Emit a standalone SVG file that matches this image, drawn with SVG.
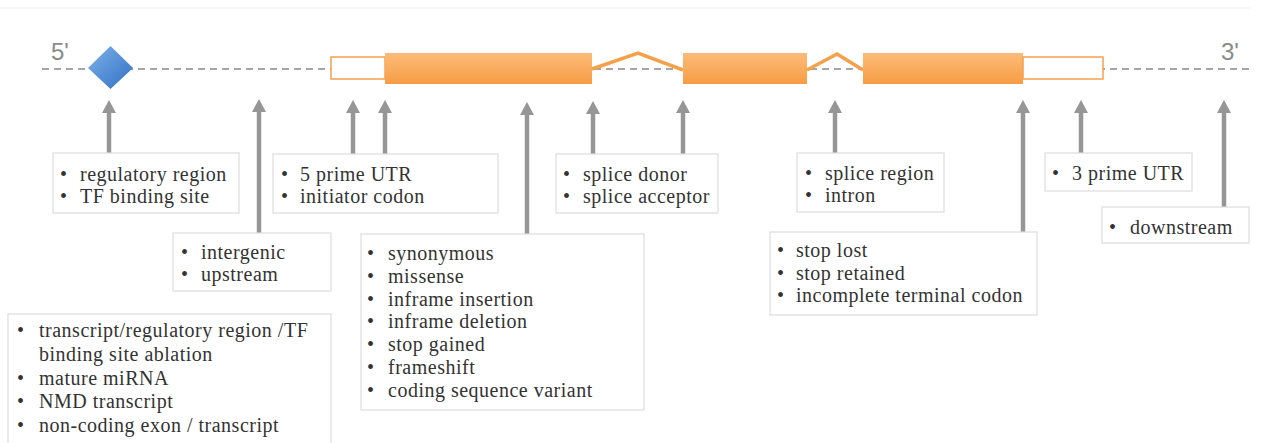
<svg xmlns="http://www.w3.org/2000/svg" width="1271" height="443" viewBox="0 0 1271 443">
<style>
.box{fill:#ffffff;stroke:#dcdcdc;stroke-width:1.2}
.t{font-family:"Liberation Serif","Times New Roman",serif;font-size:20px;letter-spacing:0.5px;fill:#333333}
.prime{font-family:"Liberation Sans",Arial,sans-serif;font-size:24px;fill:#8a8a8a}
.arr{stroke:#969696;stroke-width:4.5;fill:none;marker-end:url(#ah)}
.intron{stroke:#f5a04a;stroke-width:3.5;fill:none;stroke-linejoin:miter}
.exon{fill:url(#og)}
.utr{fill:#ffffff;stroke:#f5a050;stroke-width:1.5}
</style>
<defs>
<linearGradient id="og" x1="0" y1="0" x2="0" y2="1">
<stop offset="0" stop-color="#fdbb78"/>
<stop offset="1" stop-color="#f69d45"/>
</linearGradient>
<linearGradient id="bg" x1="0" y1="0" x2="1" y2="1">
<stop offset="0" stop-color="#7fb2ea"/>
<stop offset="1" stop-color="#2f6fc4"/>
</linearGradient>
<marker id="ah" markerUnits="userSpaceOnUse" viewBox="0 0 13 14" markerWidth="13" markerHeight="14" refX="3" refY="7" orient="auto">
<path d="M0,0 L13,7 L0,14 z" fill="#969696"/>
</marker>
</defs>
<rect width="1271" height="443" fill="#ffffff"/>
<line x1="0" y1="8" x2="1250" y2="8" stroke="#efefef" stroke-width="1"/>

<g id="gene">
<line x1="42" y1="69" x2="1250" y2="69" stroke="#a6a6a6" stroke-width="2" stroke-dasharray="7 5"/>
<text class="prime" x="51" y="60">5'</text>
<text class="prime" x="1221" y="60">3'</text>
<polygon id="tf-site" points="110.5,46 133,68 110.5,89 88,68" fill="url(#bg)"/>
<rect class="utr" x="331" y="57" width="54" height="22"/>
<rect class="exon" x="385" y="53" width="207" height="31"/>
<polyline class="intron" points="592,69 638,53 683,70"/>
<rect class="exon" x="683" y="53" width="124" height="31"/>
<polyline class="intron" points="807,70 837,54 863,70"/>
<rect class="exon" x="863" y="53" width="160" height="31"/>
<rect class="utr" x="1023" y="57" width="80" height="22"/>
</g>

<g id="connectors">
<line class="arr" x1="109" y1="153" x2="109" y2="110"/>
<line class="arr" x1="259" y1="233" x2="259" y2="109"/>
<line class="arr" x1="353" y1="155" x2="353" y2="110"/>
<line class="arr" x1="385" y1="155" x2="385" y2="110"/>
<line class="arr" x1="527" y1="234" x2="527" y2="112"/>
<line class="arr" x1="593" y1="155" x2="593" y2="111"/>
<line class="arr" x1="683" y1="155" x2="683" y2="110"/>
<line class="arr" x1="835" y1="153" x2="835" y2="110"/>
<line class="arr" x1="1023" y1="233" x2="1023" y2="110"/>
<line class="arr" x1="1081" y1="153" x2="1081" y2="110"/>
<line class="arr" x1="1224" y1="207" x2="1224" y2="110"/>
</g>

<g id="node-regulatory">
<rect class="box" x="53" y="153" width="186" height="60"/>
<text class="t"><tspan x="60" y="181">•</tspan><tspan x="80">regulatory region</tspan></text>
<text class="t"><tspan x="60" y="203">•</tspan><tspan x="80">TF binding site</tspan></text>
</g>

<g id="node-utr5">
<rect class="box" x="273" y="154" width="225" height="59"/>
<text class="t"><tspan x="281" y="181">•</tspan><tspan x="300">5 prime UTR</tspan></text>
<text class="t"><tspan x="281" y="203">•</tspan><tspan x="300">initiator codon</tspan></text>
</g>

<g id="node-splice">
<rect class="box" x="556" y="154" width="162" height="59"/>
<text class="t"><tspan x="563" y="181">•</tspan><tspan x="583">splice donor</tspan></text>
<text class="t"><tspan x="563" y="203">•</tspan><tspan x="583">splice acceptor</tspan></text>
</g>

<g id="node-intron">
<rect class="box" x="797" y="153" width="147" height="59"/>
<text class="t"><tspan x="805" y="180">•</tspan><tspan x="825">splice region</tspan></text>
<text class="t"><tspan x="805" y="202">•</tspan><tspan x="825">intron</tspan></text>
</g>

<g id="node-utr3">
<rect class="box" x="1045" y="153" width="147" height="38"/>
<text class="t"><tspan x="1052" y="180">•</tspan><tspan x="1072">3 prime UTR</tspan></text>
</g>

<g id="node-downstream">
<rect class="box" x="1102" y="207" width="147" height="36"/>
<text class="t"><tspan x="1109" y="234">•</tspan><tspan x="1130">downstream</tspan></text>
</g>

<g id="node-intergenic">
<rect class="box" x="173" y="233" width="158" height="58"/>
<text class="t"><tspan x="181" y="259">•</tspan><tspan x="201">intergenic</tspan></text>
<text class="t"><tspan x="181" y="281">•</tspan><tspan x="201">upstream</tspan></text>
</g>

<g id="node-coding">
<rect class="box" x="361" y="234" width="283" height="176"/>
<text class="t"><tspan x="367" y="260">•</tspan><tspan x="388">synonymous</tspan></text>
<text class="t"><tspan x="367" y="283">•</tspan><tspan x="388">missense</tspan></text>
<text class="t"><tspan x="367" y="306">•</tspan><tspan x="388">inframe insertion</tspan></text>
<text class="t"><tspan x="367" y="328">•</tspan><tspan x="388">inframe deletion</tspan></text>
<text class="t"><tspan x="367" y="351">•</tspan><tspan x="388">stop gained</tspan></text>
<text class="t"><tspan x="367" y="374">•</tspan><tspan x="388">frameshift</tspan></text>
<text class="t"><tspan x="367" y="397">•</tspan><tspan x="388">coding sequence variant</tspan></text>
</g>

<g id="node-stop">
<rect class="box" x="770" y="232" width="267" height="83"/>
<text class="t"><tspan x="777" y="257">•</tspan><tspan x="796">stop lost</tspan></text>
<text class="t"><tspan x="777" y="280">•</tspan><tspan x="796">stop retained</tspan></text>
<text class="t"><tspan x="777" y="302">•</tspan><tspan x="796">incomplete terminal codon</tspan></text>
</g>

<g id="node-transcript">
<rect class="box" x="8" y="314" width="323" height="135"/>
<text class="t"><tspan x="17" y="337">•</tspan><tspan x="39">transcript/regulatory region /TF</tspan></text>
<text class="t" x="39" y="361">binding site ablation</text>
<text class="t"><tspan x="17" y="385">•</tspan><tspan x="39">mature miRNA</tspan></text>
<text class="t"><tspan x="17" y="408">•</tspan><tspan x="39">NMD transcript</tspan></text>
<text class="t"><tspan x="17" y="432">•</tspan><tspan x="39">non-coding exon / transcript</tspan></text>
</g>
</svg>
